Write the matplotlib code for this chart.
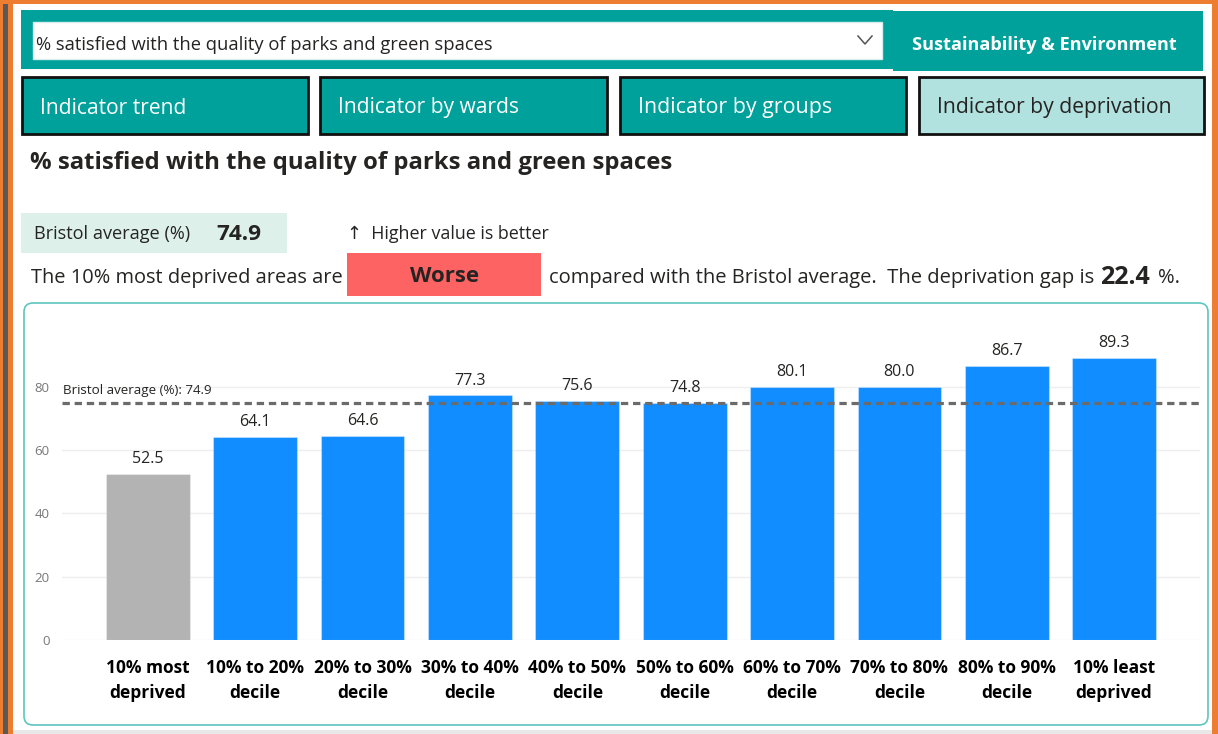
import matplotlib
matplotlib.use("Agg")
import matplotlib.pyplot as plt
from matplotlib.patches import Rectangle, FancyBboxPatch

# data
indicator = "% satisfied with the quality of parks and green spaces"
theme = "Sustainability & Environment"
tabs = ["Indicator trend", "Indicator by wards", "Indicator by groups", "Indicator by deprivation"]
deciles = ["10% most\ndeprived", "10% to 20%\ndecile", "20% to 30%\ndecile", "30% to 40%\ndecile",
           "40% to 50%\ndecile", "50% to 60%\ndecile", "60% to 70%\ndecile", "70% to 80%\ndecile",
           "80% to 90%\ndecile", "10% least\ndeprived"]
values = [52.5, 64.1, 64.6, 77.3, 75.6, 74.8, 80.1, 80.0, 86.7, 89.3]
bristol_avg = 74.9
dep_gap = 22.4
verdict = "Worse"
yticks = [0, 20, 40, 60, 80]

TEAL = "#00A19A"
LTEAL = "#B2E2DF"
ORANGE = "#ED7D31"
DARK = "#252423"
FONT = "Open Sans"

plt.rcParams["font.family"] = [FONT, "DejaVu Sans"]

fig = plt.figure(figsize=(12.18, 7.34), dpi=100)
bg = fig.add_axes([0, 0, 1, 1])
bg.set_xlim(0, 1218)
bg.set_ylim(734, 0)
bg.axis("off")
renderer = fig.canvas.get_renderer()


def put(x, y, s, w, size=12, **kw):
    # place text and scale its font so it spans w pixels
    t = bg.text(x, y + 2, s, fontsize=size, va="center", **kw)
    if w:
        bb = t.get_window_extent(renderer)
        t.set_fontsize(size * w / bb.width)
    return t


def rect(x0, y0, x1, y1, **kw):
    bg.add_patch(Rectangle((x0, y0), x1 - x0, y1 - y0, **kw))


# frame
rect(0, 0, 1218, 734, color="white", zorder=0)
rect(0, 0, 13, 734, color=ORANGE, lw=0)
rect(2.5, 4, 7.5, 734, color="#595959", lw=0)
rect(0, 0, 1218, 4, color=ORANGE, lw=0)
rect(1212, 0, 1218, 734, color=ORANGE, lw=0)
rect(13, 730, 1212, 734, color="#E8E8E8", lw=0)

# header with dropdown
rect(21, 10, 893, 69, color=TEAL, lw=0)
rect(893, 11, 1203, 71, color=TEAL, lw=0)
rect(33, 22, 882, 59, facecolor="white", edgecolor="#D8EEEC", lw=1)
put(36, 43, indicator, 456, color=DARK)
bg.plot([858, 865, 872], [36, 44, 36], color="#555555", lw=1.1)
put(912, 43, theme, 265, color="white", fontweight="bold")

# tab buttons
tab_x = [(22, 308), (320, 607), (620, 906), (919, 1204)]
tab_w = [145, 180, 192, 234]
for i, (name, (x0, x1)) in enumerate(zip(tabs, tab_x)):
    last = i == len(tabs) - 1
    rect(x0, 77, x1, 134, facecolor=LTEAL if last else TEAL, edgecolor="#111111", lw=2)
    put(x0 + 18, 106, name, tab_w[i], color=DARK if last else "white")

# title and summary
put(30, 161, indicator, 640, color=DARK, fontweight="bold")
rect(21, 213, 287, 253, color="#DDF0EA", lw=0)
put(34, 232, "Bristol average (%)", 156, color=DARK)
put(216, 232, f"{bristol_avg:.1f}", 45, color=DARK, fontweight="bold")
put(347, 232, "\u2191  Higher value is better", 202, color=DARK)
put(31, 276, "The 10% most deprived areas are", 309, color=DARK)
rect(347, 253, 541, 296, color="#FD6363", lw=0)
bg.text(445, 276, verdict, fontsize=16, fontweight="bold", color=DARK, ha="center", va="center")
put(549, 276, "compared with the Bristol average.  The deprivation gap is", 541, color=DARK)
put(1100, 275, f"{dep_gap:.1f}", 50, color=DARK, fontweight="bold")
put(1158, 276, "%.", 22, color=DARK)

# chart panel
bg.add_patch(FancyBboxPatch((24, 303), 1184, 422, boxstyle="round,pad=0,rounding_size=9",
                            facecolor="white", edgecolor="#5DC6C0", lw=1.2))

# bar chart
x0, x1, ytop, ybot = 62, 1200, 330, 640
ax = fig.add_axes([x0 / 1218, (734 - ybot) / 734, (x1 - x0) / 1218, (ybot - ytop) / 734])
ax.set_facecolor("none")
pos = list(range(len(values)))
colors = ["#B3B3B3"] + ["#118DFF"] * (len(values) - 1)
ax.bar(pos, values, width=0.78, color=colors, edgecolor="#FFFFFF55", linewidth=0.8, zorder=2)
for p, v in zip(pos, values):
    ax.text(p, v + 2.2, f"{v:.1f}", ha="center", va="bottom", fontsize=11.5, color=DARK)
ax.axhline(bristol_avg, color="#6B6B6B", lw=2.3, ls=(0, (2.3, 1.5)), zorder=3)
ax.text(-0.79, 79.0, f"Bristol average (%): {bristol_avg:.1f}", fontsize=9.6, color=DARK,
        ha="left", va="center")
ax.set_xlim(-0.80, 9.80)
ax.set_ylim(0, 98)
ax.set_yticks(yticks)
ax.set_yticklabels([str(t) for t in yticks], color="#777777", fontsize=9.5)
ax.yaxis.grid(True, color="#EEEEEE", lw=1)
ax.set_axisbelow(True)
ax.tick_params(axis="y", length=0, pad=9)
ax.set_xticks(pos)
ax.set_xticklabels(deciles, fontsize=12.5, fontweight="bold", color="black", linespacing=1.45)
ax.tick_params(axis="x", length=0, pad=14)
for s in ax.spines.values():
    s.set_visible(False)

fig.savefig("out.png", dpi=100)
